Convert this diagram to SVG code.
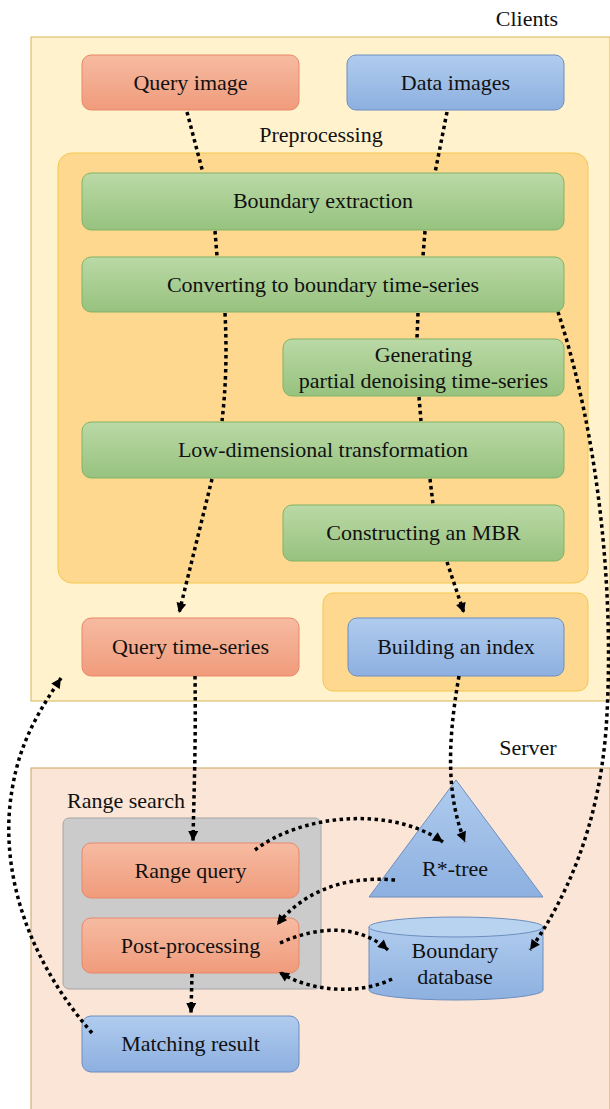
<svg xmlns="http://www.w3.org/2000/svg" width="610" height="1109" viewBox="0 0 610 1109">
<defs>
<linearGradient id="gGreen" x1="0" y1="0" x2="0" y2="1"><stop offset="0" stop-color="#BAD9A6"/><stop offset="1" stop-color="#97C27E"/></linearGradient>
<linearGradient id="gOrange" x1="0" y1="0" x2="0" y2="1"><stop offset="0" stop-color="#F6BBA2"/><stop offset="1" stop-color="#F09B7B"/></linearGradient>
<linearGradient id="gBlue" x1="0" y1="0" x2="0" y2="1"><stop offset="0" stop-color="#B0CCEE"/><stop offset="1" stop-color="#8DB0E0"/></linearGradient>
<marker id="arr" viewBox="0 0 10 10" refX="10" refY="5" markerWidth="11" markerHeight="10" markerUnits="userSpaceOnUse" orient="auto"><path d="M0,0 L10,5 L0,10 Z" fill="#000"/></marker>
<style>
.green{fill:url(#gGreen);stroke:#82B366;stroke-width:1}
.orange{fill:url(#gOrange);stroke:#E8876A;stroke-width:1}
.blue{fill:url(#gBlue);stroke:#6C8EBF;stroke-width:1}
.edge{fill:none;stroke:#000;stroke-width:3.5;stroke-dasharray:3.5 3.5}
.arrow{marker-end:url(#arr)}
</style>
</defs>
<g font-family="'Liberation Serif', 'DejaVu Serif', serif" font-size="22" fill="#111" text-anchor="middle">
<g id="clients-region">
<rect x="31" y="37" width="579" height="664" fill="#FFF2CC" stroke="#D6B656" stroke-width="1"/>
<text x="527" y="26">Clients</text>
</g>
<g id="preprocessing-region">
<rect x="58" y="153" width="530" height="430" rx="14" fill="#FED88E" stroke="#F3C84E" stroke-width="1"/>
<text x="321" y="142">Preprocessing</text>
</g>
<g id="index-region">
<rect x="323" y="593" width="265" height="98" rx="10" fill="#FED88E" stroke="#F3C84E" stroke-width="1"/>
</g>
<g id="server-region">
<rect x="31" y="768" width="579" height="350" fill="#FBE5D6" stroke="#C9A660" stroke-width="1"/>
<text x="528" y="755">Server</text>
</g>
<g id="range-search-region">
<rect x="63" y="818" width="258" height="171" rx="6" fill="#CBCBCB" stroke="#A6A6A6" stroke-width="1"/>
<text x="126" y="808">Range search</text>
</g>
<g id="query-image"><rect class="orange" x="82" y="55" width="217" height="55" rx="9"/><text x="190.5" y="90">Query image</text></g>
<g id="data-images"><rect class="blue" x="347" y="55" width="217" height="55" rx="9"/><text x="455.5" y="90">Data images</text></g>
<g id="boundary-extraction"><rect class="green" x="82" y="173" width="482" height="57" rx="9"/><text x="323" y="208">Boundary extraction</text></g>
<g id="converting"><rect class="green" x="82" y="257" width="482" height="55" rx="9"/><text x="323" y="292">Converting to boundary time-series</text></g>
<g id="generating"><rect class="green" x="283" y="339" width="281" height="57" rx="9"/><text x="423.5" y="362">Generating</text><text x="423.5" y="388">partial denoising time-series</text></g>
<g id="low-dimensional"><rect class="green" x="82" y="422" width="482" height="56" rx="9"/><text x="323" y="457">Low-dimensional transformation</text></g>
<g id="constructing-mbr"><rect class="green" x="283" y="505" width="281" height="56" rx="9"/><text x="423.5" y="540">Constructing an MBR</text></g>
<g id="query-time-series"><rect class="orange" x="82" y="618" width="217" height="58" rx="9"/><text x="190.5" y="654">Query time-series</text></g>
<g id="building-index"><rect class="blue" x="348" y="618" width="216" height="58" rx="9"/><text x="456" y="654">Building an index</text></g>
<g id="range-query"><rect class="orange" x="82" y="843" width="217" height="55" rx="9"/><text x="190.5" y="878">Range query</text></g>
<g id="post-processing"><rect class="orange" x="82" y="918" width="217" height="55" rx="9"/><text x="190.5" y="953">Post-processing</text></g>
<g id="matching-result"><rect class="blue" x="82" y="1016" width="217" height="56" rx="9"/><text x="190.5" y="1051">Matching result</text></g>
<g id="rstar-tree"><path class="blue" d="M456,780 L543,897 L369,897 Z"/><text x="455" y="876">R*-tree</text></g>
<g id="boundary-database">
<path class="blue" d="M369,927 L369,990 A87,10 0 0 0 543,990 L543,927"/>
<ellipse cx="456" cy="927" rx="87" ry="10" fill="#B8D3F0" stroke="#6C8EBF" stroke-width="1"/>
<text x="455" y="958">Boundary</text><text x="455" y="984">database</text>
</g>
</g>
<g id="connectors">
<path class="edge" d="M187,112 L203,173"/>
<path class="edge" d="M447,112 L435,173"/>
<path class="edge" d="M215,231 L217,256"/>
<path class="edge" d="M425,231 L423,256"/>
<path class="edge" d="M225,313 Q228,370 222,421"/>
<path class="edge" d="M418,313 L417,338"/>
<path class="edge" d="M419,397 L421,421"/>
<path class="edge arrow" d="M212,479 L179,613"/>
<path class="edge" d="M430,479 L433,504"/>
<path class="edge arrow" d="M447,562 L464,613"/>
<path class="edge arrow" d="M558,312 C600,440 615,600 606,730 C598,830 565,900 530,950"/>
<path class="edge arrow" d="M195,676 C196,740 194,790 193,841"/>
<path class="edge arrow" d="M459,676 C446,750 448,800 465,842"/>
<path class="edge arrow" d="M255,850 C300,815 390,805 443,842"/>
<path class="edge arrow" d="M395,880 C340,875 300,895 277,925"/>
<path class="edge arrow" d="M280,943 C320,925 360,925 388,950"/>
<path class="edge arrow" d="M392,979 C360,995 310,992 279,972"/>
<path class="edge arrow" d="M192,974 L191,1013"/>
<path class="edge arrow" d="M92,1033 C20,950 0,860 12,790 C20,740 40,710 61,678"/>
</g>
</svg>
